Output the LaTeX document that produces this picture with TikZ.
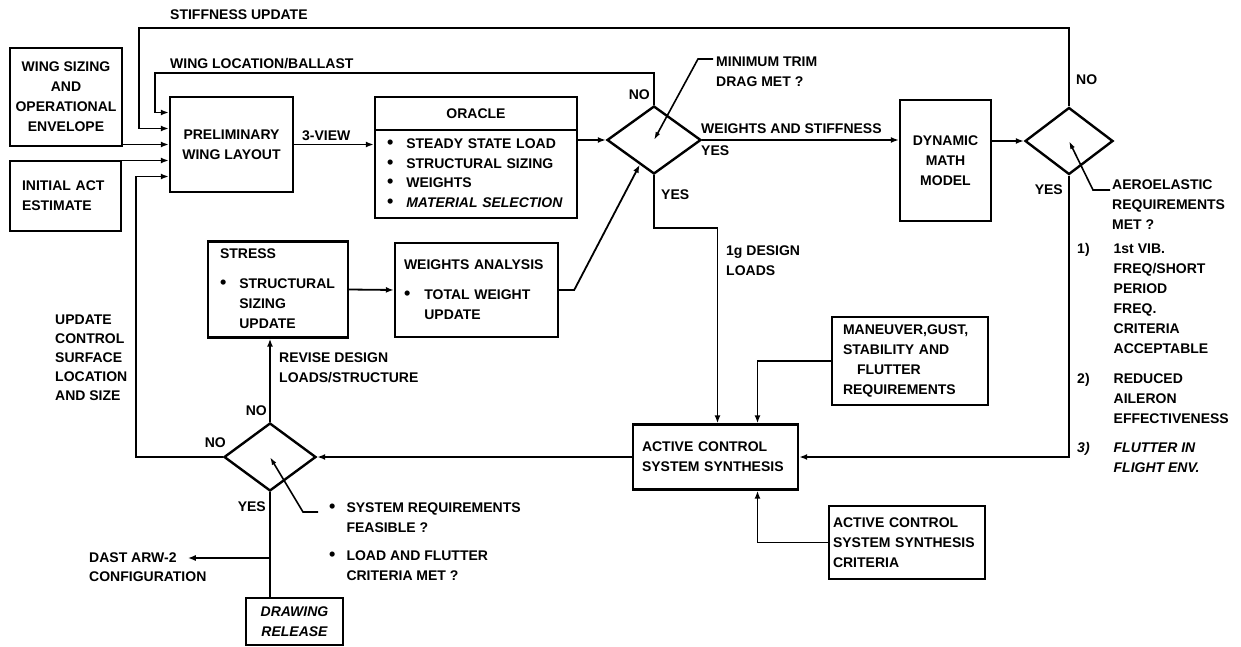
\documentclass[tikz,border=0pt]{standalone}
\usepackage{fontspec}
\setmainfont{Liberation Sans}
\usetikzlibrary{arrows.meta,positioning,shapes.geometric}
\newcommand{\lettering}{\fontsize{14}{20}\selectfont\bfseries}
\newcommand{\bul}{{\fontsize{18}{20}\selectfont\textbullet}}

\begin{document}
\begin{tikzpicture}[x=1pt, y=-1pt,
  box/.style={draw, line width=2.4pt, inner sep=3pt, align=center, font=\lettering},
  listbox/.style={box, align=left, inner xsep=10pt},
  decision/.style={diamond, draw, line width=2.4pt, inner sep=0pt, minimum width=92pt, minimum height=68pt},
  flow/.style={-{Latex[length=8pt,width=6pt]}, line width=1.8pt},
  plainflow/.style={line width=1.8pt},
  pointer/.style={-{Latex[length=8pt,width=5pt]}, line width=1.6pt},
  tag/.style={inner sep=0pt, align=left, font=\lettering}
]
\useasboundingbox (0,0) rectangle (1241,647);

% inputs and layout
\node[box, minimum width=112pt, minimum height=98pt] (sizing) at (66,97) {WING SIZING\\AND\\OPERATIONAL\\ENVELOPE};
\node[listbox, text width=87pt, inner xsep=12pt, minimum height=70pt] (initact) at (65.5,196) {INITIAL ACT\\ESTIMATE};
\node[box, minimum width=123pt, minimum height=95pt] (prelim) at (231.5,144.5) {PRELIMINARY\\WING LAYOUT};

% oracle
\node[box, minimum width=202pt, minimum height=33pt] (oraclehead) at (476,113.5) {ORACLE};
\node[listbox, below=-2.4pt of oraclehead, text width=178pt, inner xsep=12pt, minimum height=88pt] (oraclebody) {\begin{tabular}{@{}l@{\hspace{13pt}}l@{}}
  \bul & STEADY STATE LOAD\\ \bul & STRUCTURAL SIZING\\ \bul & WEIGHTS\\ \bul & \itshape MATERIAL SELECTION\end{tabular}};

\node[decision, minimum width=94pt] (dtrim) at (654,140) {};
\node[box, minimum width=91pt, minimum height=121pt] (dmm) at (945.5,160.5) {DYNAMIC\\MATH\\MODEL};
\node[decision, minimum width=88pt, minimum height=67pt] (daero) at (1069,141) {};

% stress and weights
\node[listbox, text width=116pt, inner xsep=12pt, minimum height=95pt] (stress) at (278,289.5) {\begin{tabular}{@{}l@{\hspace{13pt}}l@{}}
  \multicolumn{2}{@{}l@{}}{STRESS}\\[10pt] \bul & STRUCTURAL\\ & SIZING\\ & UPDATE\end{tabular}};
\node[listbox, text width=145pt, inner xsep=9pt, minimum height=94pt] (wtan) at (476.5,290) {\begin{tabular}{@{}l@{\hspace{14pt}}l@{}}
  \multicolumn{2}{@{}l@{}}{WEIGHTS ANALYSIS}\\[10pt] \bul & TOTAL WEIGHT\\ & UPDATE\end{tabular}};

% control synthesis
\node[listbox, text width=134pt, inner xsep=11pt, minimum height=88pt] (mangust) at (910,361) {MANEUVER,GUST,\\STABILITY AND\\\hspace*{14pt}FLUTTER\\REQUIREMENTS};
\node[listbox, text width=147pt, inner xsep=9pt, minimum height=65pt] (acss) at (715.5,457) {ACTIVE CONTROL\\SYSTEM SYNTHESIS};
\node[listbox, text width=148pt, inner xsep=4pt, minimum height=73pt] (acsscrit) at (907,542.5) {ACTIVE CONTROL\\SYSTEM SYNTHESIS\\CRITERIA};
\node[decision] (dfeas) at (270,457) {};
\node[box, minimum width=97pt, minimum height=47pt, font=\lettering\itshape] (release) at (294.5,621.5) {DRAWING\\RELEASE};

% labels
\node[tag, anchor=west] (stifflbl) at (170,15) {STIFFNESS UPDATE};
\node[tag, anchor=west] (winglbl) at (170,64) {WING LOCATION/BALLAST};
\node[tag, anchor=west] (viewlbl) at (302,136) {3-VIEW};
\node[tag, anchor=east] (notrim) at (650,95) {NO};
\node[tag, anchor=west] (yestrim) at (661,195) {YES};
\node[tag, anchor=west] (wtslbl) at (701,129) {WEIGHTS AND STIFFNESS};
\node[tag, anchor=west] (yesdmm) at (701,151) {YES};
\node[tag, anchor=west] (trimq) at (716,72) {MINIMUM TRIM\\DRAG MET ?};
\node[tag, anchor=west] (noaero) at (1076,80) {NO};
\node[tag, anchor=east] (yesaero) at (1063,190) {YES};
\node[tag, anchor=west] (aeroq) at (1112,205) {AEROELASTIC\\REQUIREMENTS\\MET ?};
\node[tag, anchor=north west] (critlist) at (1077,239) {\begin{tabular}{@{}l@{\hspace{24pt}}l@{}}
  1) & 1st VIB.\\ & FREQ/SHORT\\ & PERIOD\\ & FREQ.\\ & CRITERIA\\ & ACCEPTABLE\\[10pt]
  2) & REDUCED\\ & AILERON\\ & EFFECTIVENESS\\[9pt]
  \itshape 3) & \itshape FLUTTER IN\\ & \itshape FLIGHT ENV.\end{tabular}};
\node[tag, anchor=west] (iglbl) at (726,261) {1g DESIGN\\LOADS};
\node[tag, anchor=west] (revlbl) at (279,368) {REVISE DESIGN\\LOADS/STRUCTURE};
\node[tag, anchor=east] (nofeastop) at (267,411) {NO};
\node[tag, anchor=east] (nofeasleft) at (226,443) {NO};
\node[tag, anchor=east] (yesfeas) at (266,507) {YES};
\node[tag, anchor=west, font=\fontsize{14}{19}\selectfont\bfseries] (updlbl) at (55,358) {UPDATE\\CONTROL\\SURFACE\\LOCATION\\AND SIZE};
\node[tag, anchor=north west] (feasq) at (329,498) {\begin{tabular}{@{}l@{\hspace{11pt}}l@{}}
  \bul & SYSTEM REQUIREMENTS\\ & FEASIBLE ?\\[8pt] \bul & LOAD AND FLUTTER\\ & CRITERIA MET ?\end{tabular}};
\node[tag, anchor=west] (dast) at (89,558) {DAST ARW-2};
\node[tag, below=8pt of dast.south west, anchor=north west] (config) {CONFIGURATION};

% leaders to the decisions
\coordinate (feastail) at (318,512);
\draw[pointer] ([xshift=-3pt,yshift=13pt]trimq.west) -- ++(-15,0) -- (dtrim.center);
\draw[pointer] ([xshift=-2pt,yshift=15pt]aeroq.west) -- ++(-17,0) -- (daero.center);
\draw[pointer] (feastail) -- ++(-15,0) -- (dfeas.center);

% inputs to the layout box
\foreach \k/\s in {1/32,2/16,3/0,4/-16,5/-32}
  \coordinate (pin\k) at ([yshift=\s pt]prelim.west);
\coordinate (stiffcorner) at (139,28);
\coordinate (wingcorner) at (155,73);
\coordinate (updcorner) at (136,300);
\draw[flow] (daero.north) |- (stiffcorner) |- (pin2);
\draw[flow] (dtrim.north) |- (wingcorner) |- (pin1);
\draw[flow] (pin3 -| sizing.east) -- (pin3);
\draw[flow] (pin4 -| initact.east) -- (pin4);
\draw[flow] (dfeas.west) -| (updcorner) |- (pin5);

% main flow
\draw[flow] (prelim.east) -- (prelim.east -| oraclebody.west);
\draw[flow] (dtrim.west -| oraclebody.east) -- (dtrim.west);
\draw[flow] (dtrim.east) -- (dtrim.east -| dmm.west);
\draw[flow] (daero.west -| dmm.east) -- (daero.west);
\draw[flow] (dtrim.south) -- ++(0,53) -| ([xshift=2pt]acss.north);
\draw[flow] (mangust.west) -| ([xshift=42pt]acss.north);
\draw[flow] (acsscrit.west) -| ([xshift=42pt]acss.south);
\draw[flow] (daero.south) |- (acss.east);
\draw[flow] (acss.west) -- (dfeas.east);
\draw[flow] (wtan.east) -- ++(15,0) -- (dtrim.240);
\draw[flow] (stress.east) -- (wtan.west);
\draw[flow] (dfeas.north) -- (dfeas.north |- stress.south);
\draw[plainflow] (dfeas.south) -- (dfeas.south |- release.north);
\draw[flow] (dfeas.south |- dast.east) -- ([xshift=11pt]dast.east);
\end{tikzpicture}
\end{document}
